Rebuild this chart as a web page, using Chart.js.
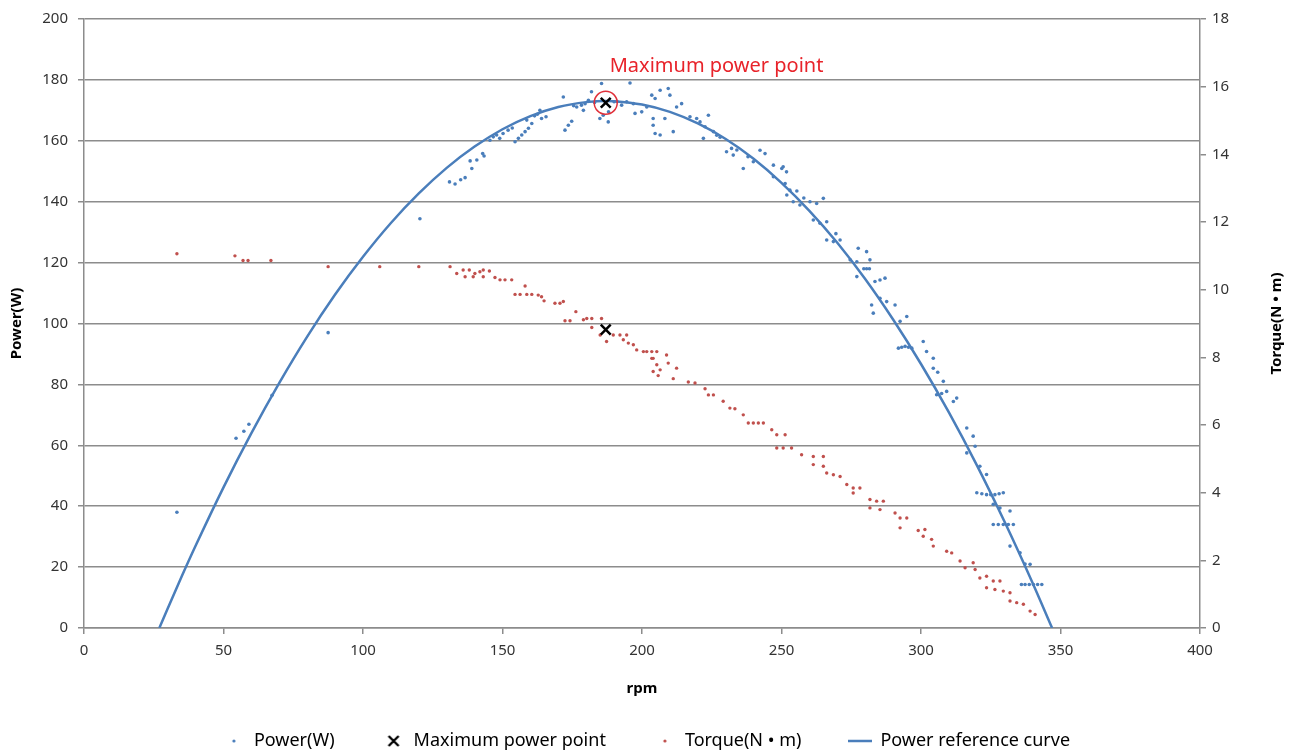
<!DOCTYPE html>
<html lang="en">
<head>
    <meta charset="UTF-8">
    <title>Power and Torque vs rpm</title>
    <script src="https://cdn.jsdelivr.net/npm/chart.js"></script>
    <style>
        html, body {
            margin: 0;
            padding: 0;
            background: #ffffff;
        }
        #wrap {
            width: 1293px;
            height: 751px;
        }
    </style>
</head>
<body>
<div id="wrap"><canvas id="powerChart" width="1293" height="751"></canvas></div>

<script>
    // measured power points (rpm, W)
    const powerRpm = [
        33.3, 54.5, 57.3, 59.1, 67.4, 87.5, 120.4,
        131.0, 133.0, 135.0, 136.6, 139.0, 138.4, 140.8, 142.9, 143.4,
        145.5, 146.7, 147.9, 149.0, 150.2, 152.0, 153.5,
        154.5, 155.7, 156.9, 158.1, 159.3, 160.5, 158.7, 161.5, 162.5,
        163.4, 164.0, 165.6, 172.4, 173.6, 174.8, 171.8, 175.5,
        176.6, 178.3, 179.6, 180.8, 179.0, 181.9, 183.0, 185.5,
        184.9, 186.1, 187.9, 188.0, 190.0, 191.0, 192.7, 194.5, 196.9, 197.5, 199.9, 201.7,
        195.7, 203.5, 204.7, 206.5, 209.4, 210.0, 204.0, 204.0, 204.7, 206.5, 211.2, 208.2,
        214.2, 212.4, 217.2, 219.6, 220.8, 222.6, 223.8, 225.6, 222.0, 226.8, 228.0,
        230.3, 232.1, 232.7, 234.0, 236.3, 238.0, 239.9, 242.3, 244.1,
        247.1, 250.1, 251.8, 247.1, 251.3, 253.0, 250.6, 251.9, 254.2, 255.5, 256.6, 258.0,
        260.2, 262.6, 265.0, 261.4, 263.8, 266.2, 266.2, 268.6, 271.0, 269.5,
        274.6, 277.0, 277.5, 280.5, 281.7, 277.0, 279.5, 280.5, 281.5,
        283.5, 285.3, 287.1, 282.3, 282.9, 285.3, 287.7, 290.7, 292.5, 294.9,
        291.9, 293.1, 294.3, 295.5, 296.7, 300.8, 302.0, 304.4, 304.4, 306.0,
        308.0, 311.6, 305.6, 307.4, 309.2, 312.8, 316.4, 318.7, 316.4, 319.4, 321.1, 323.5,
        320.0, 321.8, 323.5, 325.0, 326.5, 328.0, 329.5, 325.9, 328.3, 331.9,
        325.9, 327.7, 329.5, 331.3, 333.1, 331.9, 335.5, 337.3, 339.1,
        336.0, 337.3, 338.8, 340.3, 341.8, 343.3
    ];
    const powerW = [
        38.0, 62.3, 64.6, 66.9, 76.4, 97.0, 134.4,
        146.5, 145.8, 147.2, 147.9, 150.9, 153.4, 153.7, 155.8, 155.0,
        160.2, 161.3, 161.9, 160.8, 162.4, 163.5, 164.2,
        159.7, 160.8, 161.9, 163.0, 164.1, 165.7, 166.8, 168.2, 168.7,
        170.0, 167.3, 167.9, 163.5, 165.1, 166.4, 174.4, 171.5,
        171.1, 171.7, 172.2, 173.3, 170.0, 176.1, 172.6, 178.8,
        167.3, 168.4, 166.2, 169.5, 172.8, 173.0, 171.7, 172.8, 172.2, 169.0, 169.5, 171.1,
        179.0, 175.0, 173.9, 176.6, 177.2, 175.0, 167.3, 165.1, 162.4, 161.9, 163.0, 167.3,
        172.2, 171.1, 167.9, 167.3, 166.2, 164.6, 168.4, 163.0, 160.8, 161.8, 161.2,
        156.4, 157.5, 155.3, 157.0, 150.9, 154.8, 153.1, 156.9, 155.8,
        152.0, 150.9, 149.8, 148.2, 146.0, 143.8, 151.5, 142.2, 140.0, 143.5, 138.9, 141.2,
        140.0, 139.4, 141.1, 134.0, 132.9, 133.4, 127.4, 126.9, 127.4, 129.5,
        120.9, 120.3, 124.7, 123.6, 120.9, 115.4, 118.0, 118.0, 118.0,
        113.8, 114.3, 114.9, 106.1, 103.4, 108.3, 107.2, 106.1, 100.7, 102.3,
        91.9, 92.2, 92.5, 92.2, 91.9, 94.1, 90.8, 88.6, 85.3, 84.0,
        81.0, 74.4, 76.6, 77.0, 77.7, 75.5, 65.7, 63.0, 57.5, 59.7, 53.1, 50.4,
        44.4, 44.1, 43.8, 43.8, 43.8, 44.1, 44.4, 40.6, 39.4, 38.4,
        34.0, 34.0, 34.0, 34.0, 34.0, 26.9, 24.7, 21.0, 20.9,
        14.3, 14.3, 14.3, 14.3, 14.3, 14.3
    ];

    // measured torque points (rpm, N·m)
    const torqueRpm = [
        33.3, 54.1, 57.0, 58.8, 67.0, 87.5, 106.0, 120.0,
        131.2, 133.6, 135.9, 136.6, 138.1, 139.5, 140.1, 141.9, 143.1, 143.1, 145.3,
        147.3, 149.1, 150.9, 153.3, 158.1, 154.5, 156.3, 158.7, 160.5, 162.8, 164.0, 164.9,
        168.8, 170.6, 171.8, 176.3, 172.4, 174.2, 179.0, 180.2, 182.0, 185.5, 182.0,
        185.0, 187.3, 189.7, 192.1, 194.5, 193.3, 195.1, 196.9, 198.1, 200.5, 203.5, 205.3,
        203.5, 205.3, 204.0, 201.7, 204.0, 206.5, 208.8, 209.4, 212.4, 205.8, 211.2,
        216.6, 219.0, 222.6, 223.8, 225.6, 229.1, 231.5, 233.3, 236.3, 238.1, 239.9, 241.7, 243.5,
        246.5, 248.3, 251.3, 248.3, 250.6, 253.6, 257.2, 261.4, 265.0, 261.4, 265.0,
        266.2, 268.6, 271.0, 273.4, 275.7, 278.1, 275.7, 281.7, 284.1, 286.5, 281.7, 285.3,
        290.7, 292.5, 294.9, 292.5, 299.0, 301.4, 300.8, 303.8, 304.4,
        309.2, 311.0, 314.0, 315.8, 318.7, 319.4, 321.1, 323.5, 325.9, 328.3,
        323.5, 326.5, 329.5, 331.9, 331.9, 334.3, 336.7, 339.1, 340.9
    ];
    const torqueNm = [
        11.06, 11.0, 10.86, 10.86, 10.86, 10.68, 10.68, 10.68,
        10.68, 10.48, 10.58, 10.38, 10.58, 10.38, 10.48, 10.53, 10.58, 10.38, 10.55,
        10.36, 10.29, 10.29, 10.29, 10.11, 9.86, 9.86, 9.86, 9.86, 9.84, 9.79, 9.67,
        9.6, 9.6, 9.65, 9.35, 9.08, 9.08, 9.11, 9.15, 9.15, 9.15, 8.88,
        8.66, 8.47, 8.66, 8.66, 8.66, 8.52, 8.42, 8.37, 8.22, 8.17, 8.17, 8.17,
        7.97, 7.78, 7.58, 8.17, 7.97, 7.63, 8.07, 7.83, 7.68, 7.46, 7.37,
        7.27, 7.24, 7.07, 6.89, 6.89, 6.7, 6.5, 6.48, 6.3, 6.06, 6.06, 6.06, 6.06,
        5.86, 5.71, 5.71, 5.32, 5.32, 5.32, 5.12, 5.07, 5.07, 4.83, 4.78,
        4.58, 4.53, 4.48, 4.24, 4.14, 4.14, 3.99, 3.8, 3.75, 3.75, 3.55, 3.5,
        3.4, 3.25, 3.25, 2.96, 2.88, 2.91, 2.71, 2.62, 2.42,
        2.27, 2.22, 1.98, 1.78, 1.93, 1.73, 1.48, 1.53, 1.39, 1.39,
        1.19, 1.14, 1.09, 1.04, 0.8, 0.75, 0.7, 0.5, 0.4
    ];

    // power reference curve
    const curveRpm = [27, 30, 35, 40, 50, 60, 70, 80, 90, 100, 110, 120, 130, 140, 150, 160, 170, 180, 187,
        190, 200, 210, 220, 230, 240, 250, 260, 270, 280, 290, 300, 310, 320, 330, 340, 347];
    const curvePower = [0, 6.4, 16.9, 27.0, 46.2, 64.0, 80.5, 95.7, 109.5, 121.9, 133.0, 142.7, 151.1, 158.1, 163.8, 168.1, 171.1, 172.7, 173.1,
        173.0, 171.9, 169.5, 165.7, 160.6, 154.1, 146.2, 137.0, 126.5, 114.6, 101.3, 86.7, 70.8, 53.5, 34.8, 14.8, 0];

    // maximum power point
    const maxRpm = 187;
    const maxPower = 172.5;
    const maxTorque = 8.82;

    const rpmTicks = [0, 400, 50];
    const powerTicks = [0, 200, 20];
    const torqueTicks = [0, 18, 2];

    const blue = '#4A7EBB';
    const red = '#C0504D';
    const gridGray = '#8C8C8C';
    const fontFamily = '"Noto Sans", "DejaVu Sans", sans-serif';

    const toXY = (xs, ys) => xs.map((x, i) => ({ x: x, y: ys[i] }));

    // small legend icons
    function makeIcon(w, h, draw) {
        const c = document.createElement('canvas');
        c.width = w;
        c.height = h;
        draw(c.getContext('2d'), w, h);
        return c;
    }
    const dotIcon = (color) => makeIcon(6, 6, (g) => {
        g.fillStyle = color;
        g.beginPath();
        g.arc(3, 3, 1.6, 0, Math.PI * 2);
        g.fill();
    });
    const crossIcon = makeIcon(14, 14, (g) => {
        g.strokeStyle = '#000';
        g.lineWidth = 2.4;
        g.beginPath();
        g.moveTo(2, 2); g.lineTo(12, 12);
        g.moveTo(12, 2); g.lineTo(2, 12);
        g.stroke();
    });
    const lineIcon = makeIcon(24, 4, (g) => {
        g.strokeStyle = blue;
        g.lineWidth = 2.5;
        g.beginPath();
        g.moveTo(0, 2); g.lineTo(24, 2);
        g.stroke();
    });

    // annotation text + right axis title (reads bottom to top)
    const extras = {
        id: 'extras',
        afterDraw(chart) {
            const { ctx, scales, chartArea } = chart;
            ctx.save();
            ctx.fillStyle = '#E8232A';
            ctx.font = '20px ' + fontFamily;
            ctx.textAlign = 'left';
            ctx.textBaseline = 'middle';
            ctx.fillText('Maximum power point',
                scales.x.getPixelForValue(maxRpm) + 4,
                scales.y.getPixelForValue(maxPower) - 36);

            ctx.translate(1277, (chartArea.top + chartArea.bottom) / 2);
            ctx.rotate(-Math.PI / 2);
            ctx.fillStyle = '#000';
            ctx.font = 'bold 15px ' + fontFamily;
            ctx.textAlign = 'center';
            ctx.fillText('Torque(N \u2022 m)', 0, 0);
            ctx.restore();
        }
    };

    const ctx = document.getElementById('powerChart').getContext('2d');
    const powerChart = new Chart(ctx, {
        type: 'scatter',
        data: {
            datasets: [
                {
                    label: 'Maximum power point',
                    data: [{ x: maxRpm, y: maxPower }],
                    yAxisID: 'y',
                    pointStyle: 'crossRot',
                    pointRadius: 7,
                    borderWidth: 2.5,
                    borderColor: '#000',
                    backgroundColor: '#000'
                },
                {
                    label: 'max torque',
                    data: [{ x: maxRpm, y: maxTorque }],
                    yAxisID: 'y2',
                    pointStyle: 'crossRot',
                    pointRadius: 7,
                    borderWidth: 2.5,
                    borderColor: '#000',
                    backgroundColor: '#000'
                },
                {
                    label: 'max ring',
                    data: [{ x: maxRpm, y: maxPower }],
                    yAxisID: 'y',
                    pointStyle: 'circle',
                    pointRadius: 11.5,
                    borderWidth: 1.5,
                    borderColor: '#E0303A',
                    backgroundColor: 'rgba(0,0,0,0)'
                },
                {
                    label: 'Power(W)',
                    data: toXY(powerRpm, powerW),
                    yAxisID: 'y',
                    pointRadius: 1.8,
                    borderWidth: 0,
                    backgroundColor: blue,
                    borderColor: blue
                },
                {
                    label: 'Torque(N \u2022 m)',
                    data: toXY(torqueRpm, torqueNm),
                    yAxisID: 'y2',
                    pointRadius: 1.7,
                    borderWidth: 0,
                    backgroundColor: red,
                    borderColor: red
                },
                {
                    label: 'Power reference curve',
                    data: toXY(curveRpm, curvePower),
                    yAxisID: 'y',
                    showLine: true,
                    pointRadius: 0,
                    borderWidth: 2.5,
                    borderColor: blue,
                    backgroundColor: blue,
                    cubicInterpolationMode: 'monotone'
                }
            ]
        },
        options: {
            responsive: false,
            animation: false,
            events: [],
            layout: { padding: { top: 17, left: 0, right: 0, bottom: -9 } },
            plugins: {
                tooltip: { enabled: false },
                legend: {
                    position: 'bottom',
                    labels: {
                        font: { size: 18, family: fontFamily },
                        color: '#222',
                        usePointStyle: true,
                        pointStyleWidth: 22,
                        padding: 48,
                        generateLabels: () => [
                            { text: 'Power(W)', pointStyle: dotIcon(blue), fillStyle: blue, strokeStyle: blue, lineWidth: 0, hidden: false, datasetIndex: 3 },
                            { text: 'Maximum power point', pointStyle: crossIcon, fillStyle: '#000', strokeStyle: '#000', lineWidth: 0, hidden: false, datasetIndex: 0 },
                            { text: 'Torque(N \u2022 m)', pointStyle: dotIcon(red), fillStyle: red, strokeStyle: red, lineWidth: 0, hidden: false, datasetIndex: 4 },
                            { text: 'Power reference curve', pointStyle: lineIcon, fillStyle: blue, strokeStyle: blue, lineWidth: 0, hidden: false, datasetIndex: 5 }
                        ]
                    }
                }
            },
            scales: {
                x: {
                    type: 'linear',
                    min: rpmTicks[0],
                    max: rpmTicks[1],
                    afterFit: (s) => { s.height = 56; },
                    ticks: {
                        stepSize: rpmTicks[2],
                        padding: 8,
                        color: '#333',
                        font: { size: 15, family: fontFamily }
                    },
                    grid: {
                        drawOnChartArea: false,
                        tickLength: 6,
                        color: gridGray,
                        lineWidth: 1.5
                    },
                    border: { color: gridGray, width: 1.5 },
                    title: {
                        display: true,
                        text: 'rpm',
                        color: '#000',
                        font: { size: 15, weight: 'bold', family: fontFamily },
                        padding: { top: 0, bottom: -14 }
                    }
                },
                y: {
                    position: 'left',
                    min: powerTicks[0],
                    max: powerTicks[1],
                    afterFit: (s) => { s.width = 84; },
                    ticks: {
                        stepSize: powerTicks[2],
                        padding: 10,
                        color: '#333',
                        font: { size: 15, family: fontFamily }
                    },
                    grid: {
                        color: gridGray,
                        lineWidth: 1.5,
                        tickLength: 6
                    },
                    border: { color: gridGray, width: 1.5 },
                    title: {
                        display: true,
                        text: 'Power(W)',
                        color: '#000',
                        font: { size: 15, weight: 'bold', family: fontFamily },
                        padding: { top: 8, bottom: 0 }
                    }
                },
                y2: {
                    position: 'right',
                    min: torqueTicks[0],
                    max: torqueTicks[1],
                    afterFit: (s) => { s.width = 93; },
                    ticks: {
                        stepSize: torqueTicks[2],
                        padding: 6,
                        color: '#333',
                        font: { size: 15, family: fontFamily }
                    },
                    grid: {
                        drawOnChartArea: false,
                        color: gridGray,
                        lineWidth: 1.5,
                        tickLength: 6
                    },
                    border: { color: gridGray, width: 1.5 }
                }
            }
        },
        plugins: [extras]
    });
</script>
</body>
</html>
